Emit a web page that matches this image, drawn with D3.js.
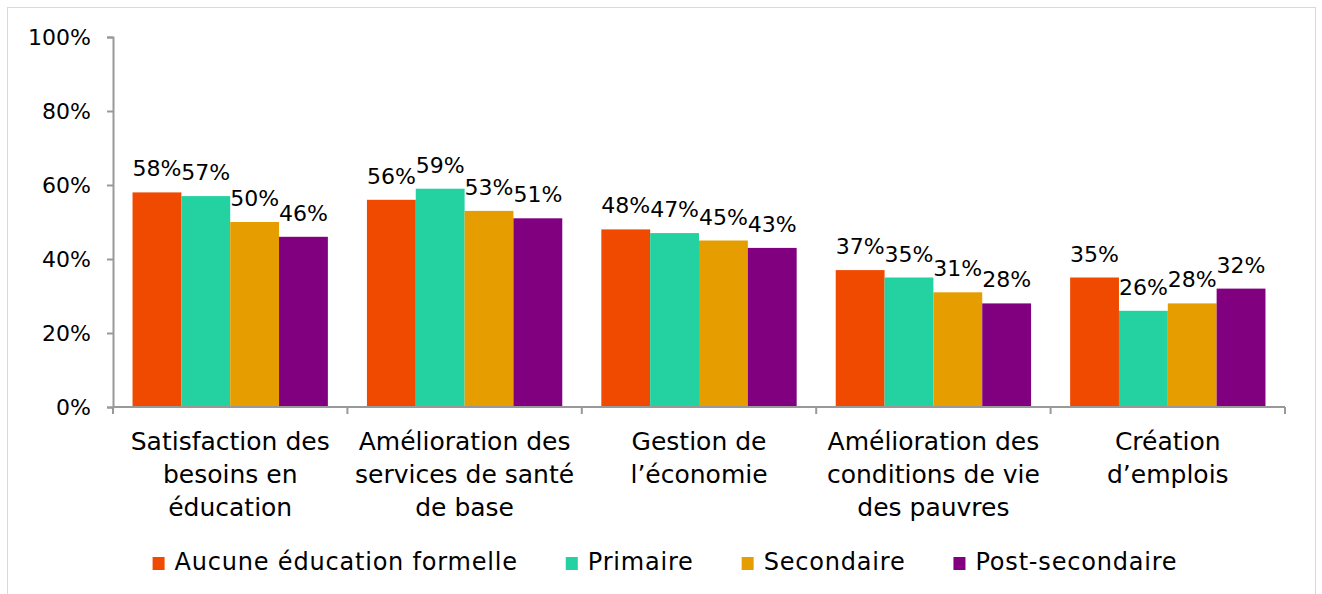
<!DOCTYPE html>
<html>
<head>
    <meta charset="utf-8">
    <title>Priorités selon le niveau d'éducation</title>
    <script src="https://d3js.org/d3.v7.min.js"></script>
    <style>
        body { margin: 0; background: #fff; }
        text { font-family: "DejaVu Sans", sans-serif; fill: #000; }
    </style>
</head>
<body>
    <svg id="chart"></svg>

    <script>
        // categories, each split into the lines shown under the axis
        const categories = [
            ["Satisfaction des", "besoins en", "éducation"],
            ["Amélioration des", "services de santé", "de base"],
            ["Gestion de", "l\u2019économie"],
            ["Amélioration des", "conditions de vie", "des pauvres"],
            ["Création", "d\u2019emplois"]
        ];
        const seriesNames = ["Aucune éducation formelle", "Primaire", "Secondaire", "Post-secondaire"];
        const seriesColors = ["#f04a00", "#23d1a1", "#e59d00", "#800080"];

        // values in %, one array per series
        const aucune = [58, 56, 48, 37, 35];
        const primaire = [57, 59, 47, 35, 26];
        const secondaire = [50, 53, 45, 31, 28];
        const postSecondaire = [46, 51, 43, 28, 32];
        const seriesValues = [aucune, primaire, secondaire, postSecondaire];

        const yTicks = [0, 20, 40, 60, 80, 100];

        const width = 1322;
        const height = 594;
        const margin = { top: 37, right: 37, bottom: 187, left: 113 };

        const svg = d3.select("#chart")
            .attr("width", width)
            .attr("height", height);

        // outer border of the chart area
        svg.append("rect")
            .attr("x", 7.5).attr("y", 7.5)
            .attr("width", 1308).attr("height", 600)
            .attr("fill", "none")
            .attr("stroke", "#d9d9d9");

        const x0 = d3.scaleBand()
            .domain(d3.range(categories.length))
            .range([margin.left, width - margin.right]);

        const x1 = d3.scaleBand()
            .domain(d3.range(seriesNames.length))
            .range([0, x0.bandwidth()])
            .paddingOuter(0.4);

        const y = d3.scaleLinear()
            .domain([0, 100])
            .range([height - margin.bottom, margin.top]);

        // bars
        const groups = svg.append("g")
            .selectAll("g")
            .data(categories.map((c, i) => i))
            .join("g")
            .attr("transform", i => `translate(${x0(i)},0)`);

        groups.selectAll("rect")
            .data(i => seriesValues.map((vals, s) => ({ s, v: vals[i] })))
            .join("rect")
            .attr("x", d => x1(d.s))
            .attr("y", d => y(d.v))
            .attr("width", x1.bandwidth())
            .attr("height", d => y(0) - y(d.v))
            .attr("fill", d => seriesColors[d.s]);

        groups.selectAll("text")
            .data(i => seriesValues.map((vals, s) => ({ s, v: vals[i] })))
            .join("text")
            .attr("x", d => x1(d.s) + x1.bandwidth() / 2)
            .attr("y", d => y(d.v) - 16)
            .attr("text-anchor", "middle")
            .attr("font-size", 22)
            .text(d => d.v + "%");

        // y axis
        const yAxis = svg.append("g")
            .attr("transform", `translate(${margin.left},0)`)
            .call(d3.axisLeft(y).tickValues(yTicks).tickSize(6).tickPadding(16)
                .tickFormat(d => d + "%"));
        yAxis.select(".domain").attr("stroke", "#999").attr("stroke-width", 2);
        yAxis.selectAll(".tick line").attr("stroke", "#999").attr("stroke-width", 2);
        yAxis.selectAll(".tick text").attr("font-size", 22).attr("font-family", "DejaVu Sans");

        // x axis with ticks at category boundaries
        const xAxis = svg.append("g")
            .attr("transform", `translate(0,${y(0)})`);
        xAxis.append("line")
            .attr("x1", x0.range()[0]).attr("x2", x0.range()[1])
            .attr("stroke", "#999").attr("stroke-width", 2);
        xAxis.selectAll(".bound")
            .data(d3.range(categories.length + 1))
            .join("line")
            .attr("class", "bound")
            .attr("x1", i => x0.range()[0] + i * x0.step())
            .attr("x2", i => x0.range()[0] + i * x0.step())
            .attr("y1", 0).attr("y2", 7)
            .attr("stroke", "#999").attr("stroke-width", 2);

        xAxis.selectAll(".cat")
            .data(categories)
            .join("text")
            .attr("class", "cat")
            .attr("text-anchor", "middle")
            .attr("font-size", 25)
            .attr("transform", (d, i) => `translate(${x0(i) + x0.bandwidth() / 2},43)`)
            .selectAll("tspan")
            .data(d => d)
            .join("tspan")
            .attr("x", 0)
            .attr("y", (d, j) => j * 33)
            .text(d => d);

        // legend, centred on the chart area
        const legend = svg.append("g");
        const items = legend.selectAll("g")
            .data(seriesNames)
            .join("g");
        items.append("rect")
            .attr("width", 12).attr("height", 13)
            .attr("y", -13)
            .attr("fill", (d, i) => seriesColors[i]);
        items.append("text")
            .attr("x", 22)
            .attr("font-size", 24)
            .attr("letter-spacing", 0.8)
            .text(d => d);

        let cx = 0;
        items.each(function () {
            const w = 22 + this.querySelector("text").getComputedTextLength();
            d3.select(this).attr("transform", `translate(${cx},0)`);
            cx += w + 48;
        });
        const total = cx - 48;
        legend.attr("transform", `translate(${665 - total / 2},570)`);
    </script>
</body>
</html>
